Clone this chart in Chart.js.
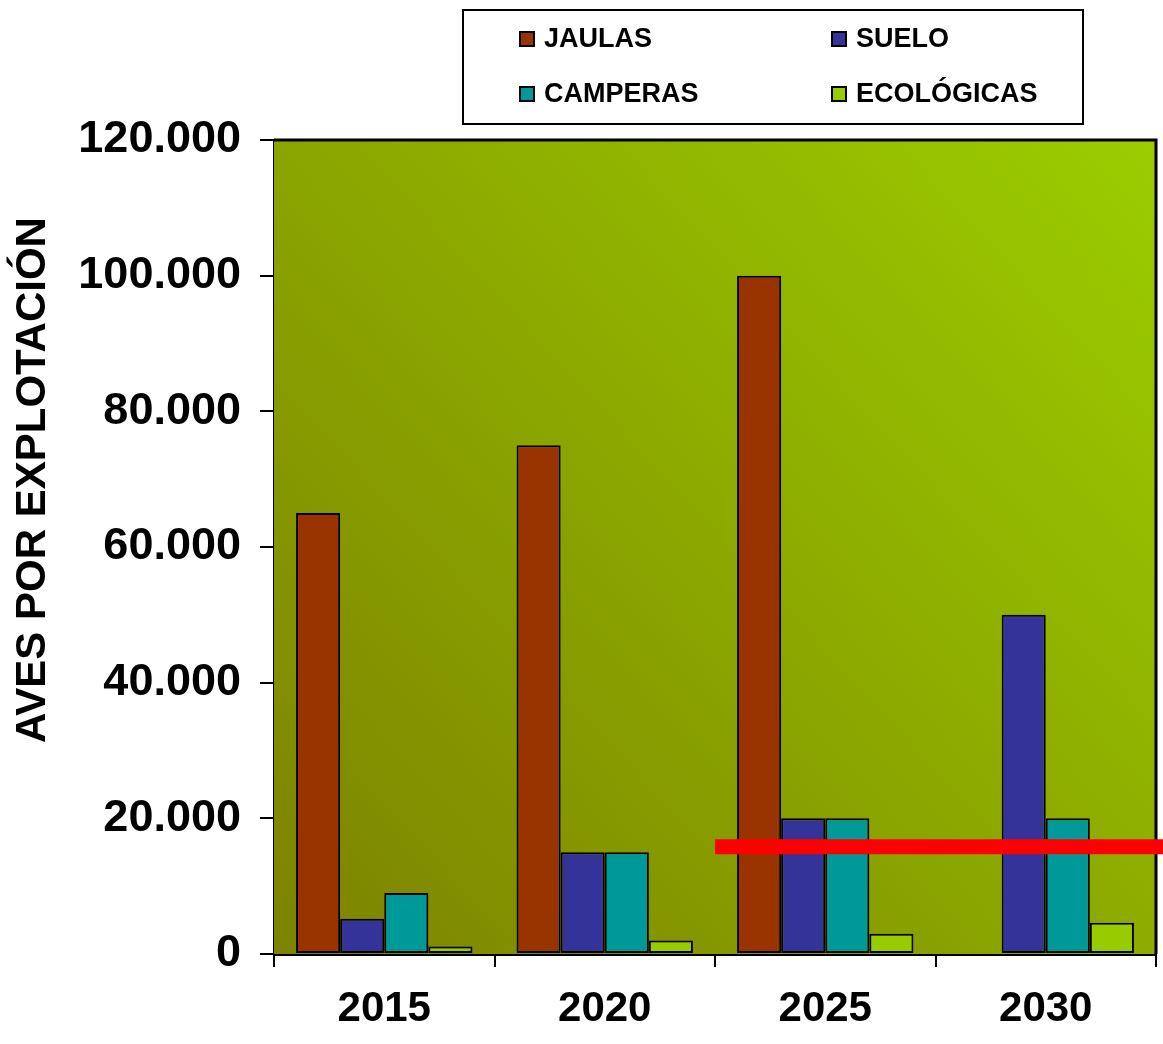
<!DOCTYPE html>
<html>
<head>
<meta charset="utf-8">
<script src="https://cdn.jsdelivr.net/npm/chart.js@4"></script>
<style>
  html, body { margin: 0; padding: 0; background: #fff; }
  #wrap { width: 1163px; height: 1044px; position: relative; }
</style>
</head>
<body>
<div id="wrap"><canvas id="chart" width="1163" height="1044"></canvas></div>
<script>
(function() {
  const years = ['2015', '2020', '2025', '2030'];
  const jaulas = [65000, 75000, 100000, 0];
  const suelo = [5200, 15000, 20000, 50000];
  const camperas = [9000, 15000, 20000, 20000];
  const ecologicas = [1100, 2000, 3000, 4600];
  const yTicks = [0, 20000, 40000, 60000, 80000, 100000, 120000];
  const redLineValue = 15800;
  const yTitle = 'AVES POR EXPLOTACIÓN';

  const FONT = "'Liberation Sans', Arial, sans-serif";

  function fmt(v) {
    return String(v).replace(/\B(?=(\d{3})+(?!\d))/g, '.');
  }

  // gradient background of plot area + frame
  const plotBg = {
    id: 'plotBg',
    beforeDatasetsDraw(chart) {
      const { ctx, chartArea: a } = chart;
      const g = ctx.createLinearGradient(a.left, a.bottom, a.right, a.top);
      g.addColorStop(0, '#7d8300');
      g.addColorStop(1, '#9bcd00');
      ctx.save();
      ctx.fillStyle = g;
      ctx.fillRect(a.left, a.top, a.right - a.left, a.bottom - a.top);
      ctx.restore();
    },
    afterDatasetsDraw(chart) {
      const { ctx, chartArea: a } = chart;
      ctx.save();
      ctx.strokeStyle = '#000';
      ctx.lineWidth = 3;
      ctx.beginPath();
      ctx.moveTo(a.left, a.top);
      ctx.lineTo(a.right, a.top);
      ctx.lineTo(a.right, a.bottom);
      ctx.stroke();
      ctx.restore();
    }
  };

  // red reference line from the 2020/2025 boundary to the right edge
  const redLine = {
    id: 'redLine',
    afterDraw(chart) {
      const { ctx } = chart;
      const x = chart.scales.x, y = chart.scales.y;
      const x0 = (x.getPixelForValue(1) + x.getPixelForValue(2)) / 2;
      const yy = y.getPixelForValue(redLineValue);
      ctx.save();
      ctx.strokeStyle = '#ff0000';
      ctx.lineWidth = 15;
      ctx.beginPath();
      ctx.moveTo(x0, yy);
      ctx.lineTo(chart.width, yy);
      ctx.stroke();
      ctx.restore();
    }
  };

  // rotated y title, boxed 2x2 legend
  const extras = {
    id: 'extras',
    afterDraw(chart) {
      const { ctx } = chart;
      ctx.save();
      ctx.fillStyle = '#000';
      ctx.font = 'bold 42px ' + FONT;
      ctx.translate(33, 480);
      ctx.rotate(-Math.PI / 2);
      ctx.textAlign = 'center';
      ctx.textBaseline = 'middle';
      ctx.fillText(yTitle, 0, 0);
      ctx.restore();

      ctx.save();
      ctx.strokeStyle = '#000';
      ctx.lineWidth = 2;
      ctx.fillStyle = '#fff';
      ctx.fillRect(463, 10, 620, 114);
      ctx.strokeRect(463, 10, 620, 114);
      const cols = [520, 832], rows = [39, 94];
      ctx.font = 'bold 27px ' + FONT;
      ctx.textBaseline = 'middle';
      chart.data.datasets.forEach((ds, i) => {
        const bx = cols[i % 2], by = rows[Math.floor(i / 2)];
        ctx.fillStyle = ds.backgroundColor;
        ctx.fillRect(bx, by - 7, 14, 14);
        ctx.lineWidth = 2;
        ctx.strokeRect(bx, by - 7, 14, 14);
        ctx.fillStyle = '#000';
        ctx.fillText(ds.label, bx + 24, by + 1);
      });
      ctx.restore();
    }
  };

  function ds(label, data, color) {
    return {
      label: label, data: data, backgroundColor: color,
      borderColor: '#000', borderWidth: 2, borderSkipped: false
    };
  }

  new Chart(document.getElementById('chart'), {
    type: 'bar',
    data: {
      labels: years,
      datasets: [
        ds('JAULAS', jaulas, '#993300'),
        ds('SUELO', suelo, '#333399'),
        ds('CAMPERAS', camperas, '#009999'),
        ds('ECOLÓGICAS', ecologicas, '#99cc00')
      ]
    },
    options: {
      responsive: false,
      animation: false,
      devicePixelRatio: 1,
      layout: { padding: { top: 140, right: 7, left: 0, bottom: 0 } },
      datasets: { bar: { categoryPercentage: 0.8, barPercentage: 1.0 } },
      plugins: { legend: { display: false }, tooltip: { enabled: false } },
      scales: {
        x: {
          grid: { offset: true, drawOnChartArea: false, drawTicks: true, tickLength: 13, color: '#000', lineWidth: 2 },
          border: { display: true, color: '#000', width: 3 },
          ticks: { color: '#000', padding: 17, font: { family: FONT, size: 42, weight: 'bold' } },
          afterFit(s) { s.height = 90; }
        },
        y: {
          min: 0, max: 120000,
          afterBuildTicks(s) { s.ticks = yTicks.map(v => ({ value: v })); },
          grid: { drawOnChartArea: false, drawTicks: true, tickLength: 14, color: '#000', lineWidth: 2 },
          border: { display: true, color: '#000', width: 3 },
          ticks: { color: '#000', padding: 19, font: { family: FONT, size: 45, weight: 'bold' }, callback: v => fmt(v) },
          afterFit(s) { s.width = 274; }
        }
      }
    },
    plugins: [plotBg, redLine, extras]
  });
})();
</script>
</body>
</html>
